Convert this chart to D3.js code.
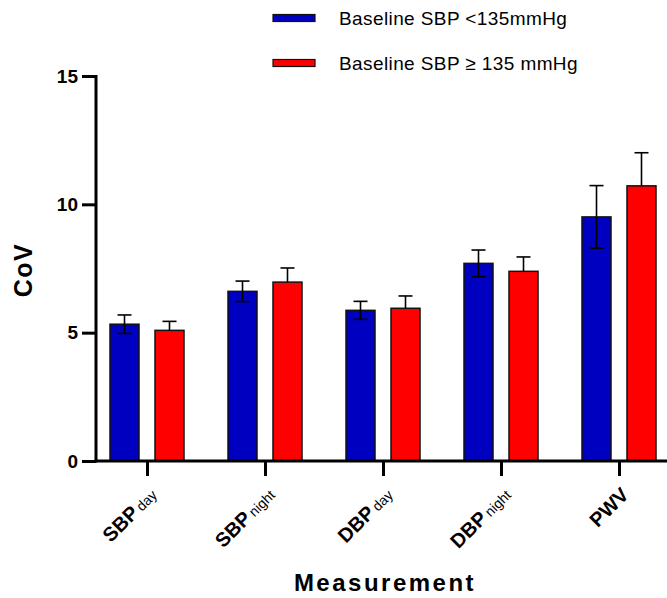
<!DOCTYPE html>
<html>
<head>
<meta charset="utf-8">
<script src="https://cdn.jsdelivr.net/npm/d3@7"></script>
<style>
  body { margin: 0; background: #fff; }
  svg { font-family: 'Liberation Sans', Arial, sans-serif; }
</style>
</head>
<body>
<svg width="667" height="598"></svg>
<script>
// measurements on the x axis
var measures = ['SBP day', 'SBP night', 'DBP day', 'DBP night', 'PWV'];
var mainLabels = ['SBP', 'SBP', 'DBP', 'DBP', 'PWV'];
var subLabels = ['day', 'night', 'day', 'night', ''];

// group means and error (SEM)
var lowMeans = [5.33, 6.61, 5.87, 7.70, 9.51];
var lowErr = [0.36, 0.40, 0.35, 0.52, 1.22];
var highMeans = [5.09, 6.97, 5.95, 7.39, 10.72];
var highErr = [0.35, 0.55, 0.48, 0.56, 1.29];

var seriesNames = ['Baseline SBP <135mmHg', 'Baseline SBP \u2265 135 mmHg'];
var seriesColors = ['#0000c0', '#ff0000'];
var yTicks = [0, 5, 10, 15];

var svg = d3.select('svg');

var x = d3.scalePoint().domain(measures).range([147, 619]);
var y = d3.scaleLinear().domain([0, 15]).range([461, 76]);

var barW = 29;
var offsets = [-22.5, 22.5];

var series = [
  { means: lowMeans, err: lowErr, color: seriesColors[0], both: true },
  { means: highMeans, err: highErr, color: seriesColors[1], both: false }
];

// bars
series.forEach(function (s, si) {
  var g = svg.append('g');
  g.selectAll('rect')
    .data(measures)
    .enter()
    .append('rect')
    .attr('x', function (d) { return x(d) + offsets[si] - barW / 2; })
    .attr('y', function (d, i) { return y(s.means[i]); })
    .attr('width', barW)
    .attr('height', function (d, i) { return y(0) - y(s.means[i]); })
    .attr('fill', s.color)
    .attr('stroke', '#111')
    .attr('stroke-width', 1.5);

  // error bars
  var eb = g.selectAll('g.err')
    .data(measures)
    .enter()
    .append('g')
    .attr('class', 'err')
    .attr('stroke', '#000')
    .attr('stroke-width', 1.6);
  eb.append('line')
    .attr('x1', function (d) { return x(d) + offsets[si]; })
    .attr('x2', function (d) { return x(d) + offsets[si]; })
    .attr('y1', function (d, i) { return y(s.means[i] + s.err[i]); })
    .attr('y2', function (d, i) { return s.both ? y(s.means[i] - s.err[i]) : y(s.means[i]); });
  eb.append('line')
    .attr('x1', function (d) { return x(d) + offsets[si] - 7; })
    .attr('x2', function (d) { return x(d) + offsets[si] + 7; })
    .attr('y1', function (d, i) { return y(s.means[i] + s.err[i]); })
    .attr('y2', function (d, i) { return y(s.means[i] + s.err[i]); });
  if (s.both) {
    eb.append('line')
      .attr('x1', function (d) { return x(d) + offsets[si] - 7; })
      .attr('x2', function (d) { return x(d) + offsets[si] + 7; })
      .attr('y1', function (d, i) { return y(s.means[i] - s.err[i]); })
      .attr('y2', function (d, i) { return y(s.means[i] - s.err[i]); });
  }
});

// y axis
var yAxis = svg.append('g')
  .attr('transform', 'translate(96,0)')
  .call(d3.axisLeft(y).tickValues(yTicks).tickSize(14).tickPadding(4));
yAxis.select('.domain').attr('stroke-width', 3).attr('d', 'M0,' + (y(15) - 1) + 'V' + (y(0) + 1.5));
yAxis.selectAll('.tick line').attr('stroke-width', 3);
yAxis.selectAll('.tick text')
  .attr('font-size', 19)
  .attr('font-weight', 'bold')
  .attr('fill', '#000')
  .attr('font-family', "'Liberation Sans', Arial, sans-serif");

// x axis
var xAxis = svg.append('g')
  .attr('transform', 'translate(0,' + y(0) + ')')
  .call(d3.axisBottom(x).tickSize(15).tickFormat(''));
xAxis.select('.domain').attr('stroke-width', 3).attr('d', 'M94.5,0H667');
xAxis.selectAll('.tick line').attr('stroke-width', 3);

// rotated category labels
var lab = svg.append('g').selectAll('text')
  .data(measures)
  .enter()
  .append('text')
  .attr('text-anchor', 'end')
  .attr('transform', function (d) { return 'translate(' + (x(d) + 11) + ',496) rotate(-45)'; });
lab.append('tspan')
  .attr('font-weight', 'bold')
  .attr('font-size', 20)
  .text(function (d, i) { return mainLabels[i]; });
lab.append('tspan')
  .attr('font-size', 14)
  .attr('dx', 3)
  .text(function (d, i) { return subLabels[i]; });

// axis titles
svg.append('text')
  .attr('transform', 'translate(32,270) rotate(-90)')
  .attr('text-anchor', 'middle')
  .attr('font-size', 25)
  .attr('font-weight', 'bold')
  .attr('letter-spacing', 1.5)
  .text('CoV');

svg.append('text')
  .attr('x', 385)
  .attr('y', 591)
  .attr('text-anchor', 'middle')
  .attr('font-size', 24)
  .attr('font-weight', 'bold')
  .attr('letter-spacing', 2.5)
  .text('Measurement');

// legend
var leg = svg.append('g').selectAll('g')
  .data(seriesNames)
  .enter()
  .append('g')
  .attr('transform', function (d, i) { return 'translate(273,' + (18 + i * 45) + ')'; });
leg.append('rect')
  .attr('x', 0)
  .attr('y', -3.5)
  .attr('width', 42)
  .attr('height', 7)
  .attr('fill', function (d, i) { return seriesColors[i]; })
  .attr('stroke', '#111')
  .attr('stroke-width', 1.2);
leg.append('text')
  .attr('x', 66)
  .attr('y', 7)
  .attr('font-size', 19)
  .attr('letter-spacing', 0.4)
  .text(function (d) { return d; });
</script>
</body>
</html>
